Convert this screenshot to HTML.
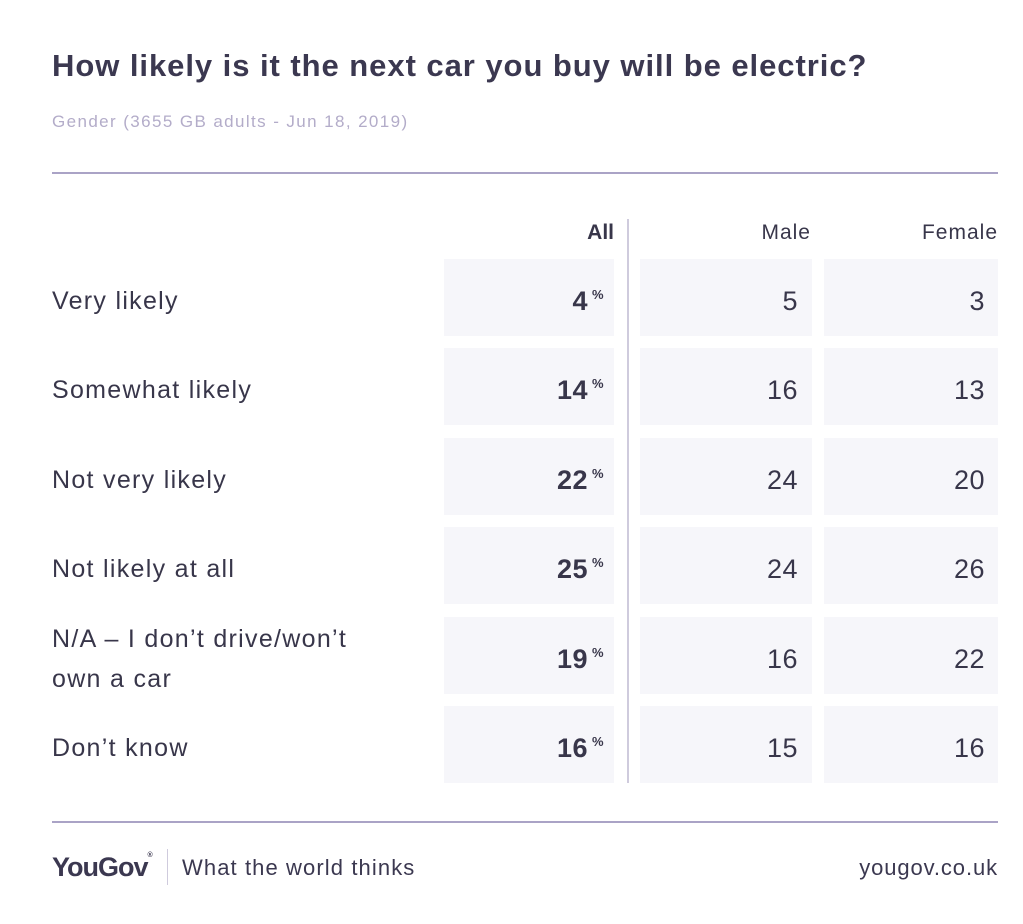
<!DOCTYPE html>
<html><head><style>
body{margin:0;width:1023px;height:924px;background:#fff;font-family:"Liberation Sans",sans-serif;position:relative;overflow:hidden;color:#38364a}
.a{position:absolute}
.cell{position:absolute;background:#f6f6fa;height:77px}
.lbl{position:absolute;left:52px;font-size:25px;letter-spacing:1.3px;color:#38364a;line-height:40px;white-space:nowrap}
.num{position:absolute;font-size:27px;letter-spacing:0.5px;color:#38364a;text-align:right;line-height:77px}
.b{font-weight:bold}
.pct{position:absolute;font-size:13px;font-weight:bold}
</style></head><body>
<div class="a" style="left:52px;top:48px;font-size:31px;letter-spacing:0.95px;font-weight:bold;color:#3b3850;white-space:nowrap">How likely is it the next car you buy will be electric?</div>
<div class="a" style="left:52px;top:112px;font-size:17px;letter-spacing:1.4px;color:#b3acc9;white-space:nowrap">Gender (3655 GB adults - Jun 18, 2019)</div>
<div class="a" style="left:52px;top:172px;width:946px;height:2px;background:#aaa3c6"></div>
<div class="a" style="left:540px;top:221px;width:74px;text-align:right;font-size:21px;font-weight:bold">All</div>
<div class="a" style="left:680px;top:221px;width:131px;text-align:right;font-size:21px;letter-spacing:1px;color:#38364a">Male</div>
<div class="a" style="left:860px;top:221px;width:138px;text-align:right;font-size:21px;letter-spacing:1px;color:#38364a">Female</div>
<div class="a" style="left:627px;top:219px;width:2px;height:564px;background:#cfcbdd"></div>

<div class="cell" style="left:444px;top:259px;width:170px"></div><div class="cell" style="left:640px;top:259px;width:172px"></div><div class="cell" style="left:824px;top:259px;width:174px"></div>
<div class="cell" style="left:444px;top:348px;width:170px"></div><div class="cell" style="left:640px;top:348px;width:172px"></div><div class="cell" style="left:824px;top:348px;width:174px"></div>
<div class="cell" style="left:444px;top:438px;width:170px"></div><div class="cell" style="left:640px;top:438px;width:172px"></div><div class="cell" style="left:824px;top:438px;width:174px"></div>
<div class="cell" style="left:444px;top:527px;width:170px"></div><div class="cell" style="left:640px;top:527px;width:172px"></div><div class="cell" style="left:824px;top:527px;width:174px"></div>
<div class="cell" style="left:444px;top:617px;width:170px"></div><div class="cell" style="left:640px;top:617px;width:172px"></div><div class="cell" style="left:824px;top:617px;width:174px"></div>
<div class="cell" style="left:444px;top:706px;width:170px"></div><div class="cell" style="left:640px;top:706px;width:172px"></div><div class="cell" style="left:824px;top:706px;width:174px"></div>

<div class="lbl" style="top:281px">Very likely</div>
<div class="lbl" style="top:370px">Somewhat likely</div>
<div class="lbl" style="top:460px">Not very likely</div>
<div class="lbl" style="top:549px">Not likely at all</div>
<div class="lbl" style="top:619px">N/A – I don’t drive/won’t<br>own a car</div>
<div class="lbl" style="top:728px">Don’t know</div>

<div id="nums"></div>
<script>
var rows=[[259,4,5,3],[348,14,16,13],[438,22,24,20],[527,25,24,26],[617,19,16,22],[706,16,15,16]];
var h='';
rows.forEach(function(r){
var t=r[0]+4;
h+='<div class="num b" style="left:444px;width:144px;top:'+t+'px">'+r[1]+'</div>';
h+='<div class="pct" style="left:592px;top:'+(r[0]+28)+'px">%</div>';
h+='<div class="num" style="left:640px;width:158px;top:'+t+'px">'+r[2]+'</div>';
h+='<div class="num" style="left:824px;width:161px;top:'+t+'px">'+r[3]+'</div>';
});
document.getElementById('nums').innerHTML=h;
</script>

<div class="a" style="left:52px;top:821px;width:946px;height:2px;background:#aaa3c6"></div>
<div class="a" style="left:52px;top:852px;font-size:27px;font-weight:bold;color:#3b3850;letter-spacing:-1px">YouGov<span style="font-size:7px;vertical-align:top">®</span></div>
<div class="a" style="left:167px;top:849px;width:1px;height:36px;background:#cfcbdd"></div>
<div class="a" style="left:182px;top:855px;font-size:22px;letter-spacing:1.1px;color:#3b3850;white-space:nowrap">What the world thinks</div>
<div class="a" style="left:780px;top:855px;width:218px;text-align:right;font-size:22px;letter-spacing:0.9px;color:#3b3850">yougov.co.uk</div>
</body></html>
